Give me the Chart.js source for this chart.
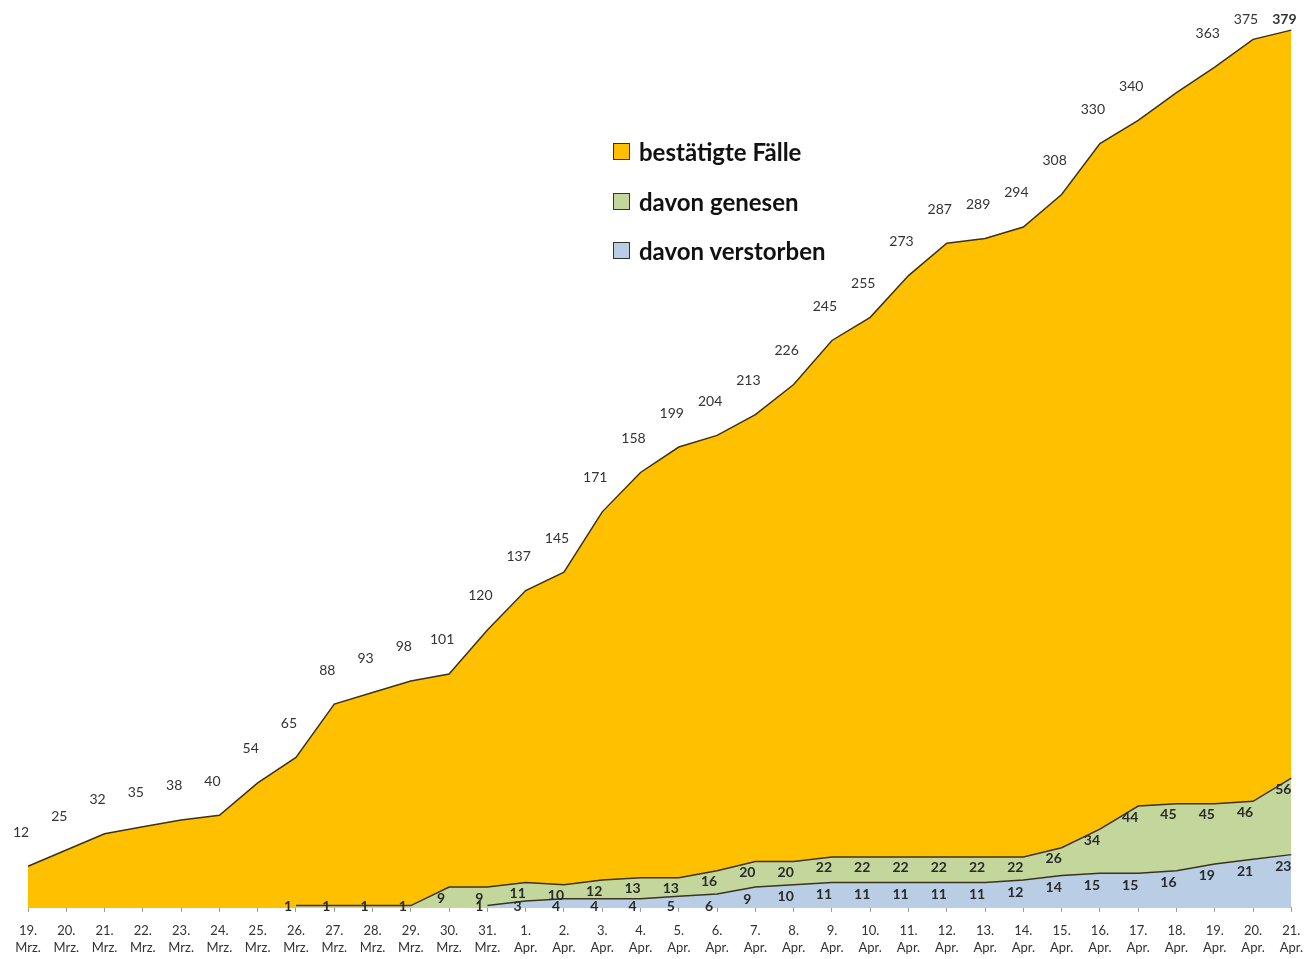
<!DOCTYPE html>
<html>
<head>
<meta charset="utf-8">
<script src="https://cdn.jsdelivr.net/npm/chart.js@4"></script>
<style>
html,body{margin:0;padding:0;background:#fff;overflow:hidden;}
#wrap{position:relative;width:1313px;height:959px;overflow:hidden;}
#legend{position:absolute;left:613px;top:127px;font-family:Lato,"Open Sans",sans-serif;font-weight:700;font-size:24px;color:#111;}
#legend .row{display:flex;align-items:center;height:49.5px;}
#legend .box{width:15px;height:15px;border:1.5px solid #333;margin-right:9px;box-sizing:content-box;}
</style>
</head>
<body>
<div id="wrap">
<canvas id="c" width="1313" height="968"></canvas>
<div id="legend"></div>
</div>
<script>
const days = ["19.","20.","21.","22.","23.","24.","25.","26.","27.","28.","29.","30.","31.",
  "1.","2.","3.","4.","5.","6.","7.","8.","9.","10.","11.","12.","13.","14.","15.","16.","17.","18.","19.","20.","21."];
const months = ["Mrz.","Mrz.","Mrz.","Mrz.","Mrz.","Mrz.","Mrz.","Mrz.","Mrz.","Mrz.","Mrz.","Mrz.","Mrz.",
  "Apr.","Apr.","Apr.","Apr.","Apr.","Apr.","Apr.","Apr.","Apr.","Apr.","Apr.","Apr.","Apr.","Apr.","Apr.","Apr.","Apr.","Apr.","Apr.","Apr.","Apr."];

const seriesNames = ["bestätigte Fälle", "davon genesen", "davon verstorben"];

// confirmed cases (shape of the area)
const confirmed = [18,25,32,35,38,40,54,65,88,93,98,101,120,137,145,171,188,199,204,213,226,245,255,273,287,289,294,308,330,340,352,363,375,379];
// printed labels for confirmed cases
const confirmedText = ["12","25","32","35","38","40","54","65","88","93","98","101","120","137","145","171","158","199","204","213","226","245","255","273","287","289","294","308","330","340","","363","375","379"];
// recovered
const recovered = [null,null,null,null,null,null,null,1,1,1,1,9,9,11,10,12,13,13,16,20,20,22,22,22,22,22,22,26,34,44,45,45,46,56];
// deceased
const deceased = [null,null,null,null,null,null,null,null,null,null,null,null,1,3,4,4,4,5,6,9,10,11,11,11,11,11,12,14,15,15,16,19,21,23];

const colors = ["#FFC000", "#C3D69B", "#B9CDE5"];
const lineColor = "#3b3320";

const labels = days.map((d,i)=>[d, months[i]]);

const labelPlugin = {
  id: 'valueLabels',
  afterDatasetsDraw(chart) {
    const ctx = chart.ctx;
    const area = chart.chartArea;
    ctx.save();
    ctx.textAlign = 'center';
    ctx.textBaseline = 'middle';
    const m0 = chart.getDatasetMeta(0);
    ctx.fillStyle = '#333';
    m0.data.forEach((pt, i) => {
      const t = confirmedText[i];
      if (!t) return;
      ctx.font = (i === confirmedText.length - 1 ? '700 ' : '400 ') + '14px Lato, "Open Sans", sans-serif';
      let y = pt.y - 34;
      if (y < 19) y = 19;
      ctx.fillText(t, pt.x - 7, y);
    });
    ctx.font = '700 14px Lato, "Open Sans", sans-serif';
    ctx.fillStyle = '#2a2a2a';
    [[1, recovered, 11], [2, deceased, 12]].forEach(([idx, arr, dy]) => {
      const meta = chart.getDatasetMeta(idx);
      meta.data.forEach((pt, i) => {
        if (arr[i] === null) return;
        let y = pt.y + dy;
        if (y > area.bottom - 1) y = area.bottom - 1;
        ctx.fillText(String(arr[i]), pt.x - 8, y);
      });
    });
    ctx.restore();
  }
};

const chart = new Chart(document.getElementById('c'), {
  type: 'line',
  data: {
    labels: labels,
    datasets: [
      { label: seriesNames[0], data: confirmed, backgroundColor: colors[0], borderColor: lineColor, borderWidth: 1.5, fill: 'origin', order: 3, pointRadius: 0, tension: 0 },
      { label: seriesNames[1], data: recovered, backgroundColor: colors[1], borderColor: lineColor, borderWidth: 1.5, fill: 'origin', order: 2, pointRadius: 0, tension: 0 },
      { label: seriesNames[2], data: deceased, backgroundColor: colors[2], borderColor: lineColor, borderWidth: 1.5, fill: 'origin', order: 1, pointRadius: 0, tension: 0 }
    ]
  },
  options: {
    responsive: false,
    animation: false,
    layout: { padding: { left: 28, right: 21, top: 0, bottom: 1 } },
    plugins: { legend: { display: false }, tooltip: { enabled: false } },
    scales: {
      x: {
        offset: false,
        grid: { display: true, drawOnChartArea: false, tickLength: 4, color: '#999' },
        border: { display: true, color: '#999', width: 1 },
        ticks: { maxRotation: 0, autoSkip: false, padding: 10, color: '#333',
          font: { family: 'Lato, "Open Sans", sans-serif', size: 13, lineHeight: 1.35 } }
      },
      y: { display: false, min: 0, max: 392 }
    }
  },
  plugins: [labelPlugin]
});

const leg = document.getElementById('legend');
chart.data.datasets.forEach((ds) => {
  const row = document.createElement('div');
  row.className = 'row';
  const box = document.createElement('span');
  box.className = 'box';
  box.style.background = ds.backgroundColor;
  const txt = document.createElement('span');
  txt.textContent = ds.label;
  row.appendChild(box); row.appendChild(txt);
  leg.appendChild(row);
});
</script>
</body>
</html>
